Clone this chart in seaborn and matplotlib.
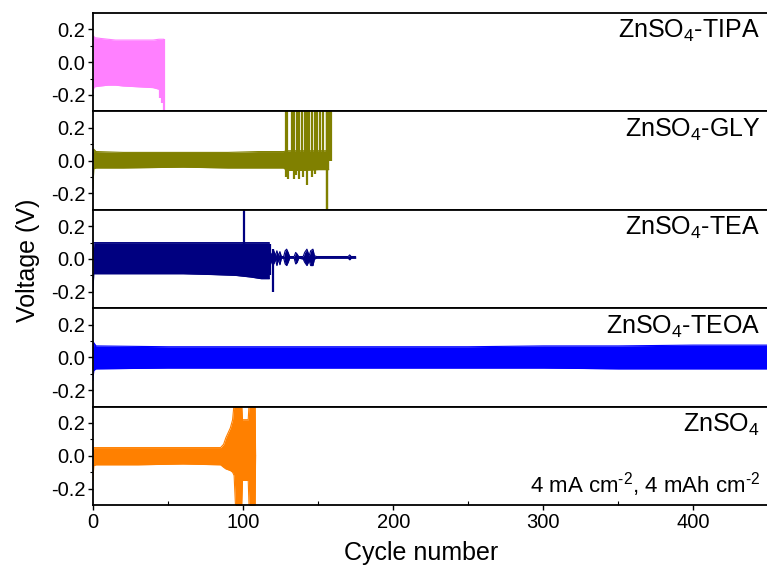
import numpy as np
import pandas as pd
import matplotlib
matplotlib.use("Agg")
import matplotlib.pyplot as plt
import seaborn as sns
from matplotlib.ticker import FixedLocator, MultipleLocator

# ---------------- data ----------------
labels = ["ZnSO$_4$-TIPA", "ZnSO$_4$-GLY", "ZnSO$_4$-TEA", "ZnSO$_4$-TEOA", "ZnSO$_4$"]
colors = ["#FF80FF", "#808000", "#000080", "#0000FF", "#FF8000"]
note = "4 mA cm$^{\\text{-2}}$, 4 mAh cm$^{\\text{-2}}$"
xlabel = "Cycle number"
ylabel = "Voltage (V)"
xticks = [0, 100, 200, 300, 400]
yticks = [-0.2, 0.0, 0.2]
yticklabels = ["-0.2", "0.0", "0.2"]

# ZnSO4-TIPA voltage envelope (upper / lower peaks per cycle)
tipa_cyc = [0, 0.4, 1, 5, 10, 15, 20, 30, 40, 44, 46, 47.2]
tipa_up = [0.1, 0.16, 0.15, 0.145, 0.14, 0.135, 0.135, 0.135, 0.135, 0.14, 0.14, 0.14]
tipa_lo = [-0.19, -0.16, -0.15, -0.145, -0.14, -0.14, -0.145, -0.15, -0.155, -0.165, -0.17, -0.17]
tipa_spk_cyc = [44.8, 46.0, 47.3]
tipa_spk_lo = [-0.22, -0.25, -0.32]
tipa_spk_hi = [0.0, 0.0, 0.14]

# ZnSO4-GLY
gly_cyc = [0, 0.5, 2, 20, 60, 90, 110, 127, 129, 140, 150, 155, 157]
gly_up = [0.0, 0.07, 0.055, 0.05, 0.05, 0.05, 0.055, 0.055, 0.06, 0.06, 0.06, 0.06, 0.06]
gly_lo = [-0.17, -0.05, -0.045, -0.045, -0.04, -0.045, -0.045, -0.045, -0.06, -0.06, -0.055, -0.055, -0.055]
gly_spk_cyc = [128.3, 129.3, 132.4, 134.2, 135.8, 137.3, 139.1, 140.9, 142.4, 144.2,
               145.8, 147.6, 149.1, 151.3, 153.1, 155.8, 156.8, 157.8, 158.8,
               128.7, 130.2, 133.6, 135.2, 137.3, 140.0, 142.4, 145.8, 148.0, 155.6, 156.2]
gly_spk_lo = [0.0] * 19 + [-0.10, -0.11, -0.11, -0.09, -0.11, -0.10, -0.15, -0.10, -0.08, -0.32, -0.32]
gly_spk_hi = [0.32] * 19 + [0.0] * 9 + [0.32, 0.32]

# ZnSO4-TEA
tea_cyc = [0, 0.5, 2, 30, 60, 80, 95, 105, 112, 117.5]
tea_up = [0.0, 0.1, 0.1, 0.1, 0.1, 0.1, 0.1, 0.1, 0.1, 0.1]
tea_lo = [-0.2, -0.09, -0.09, -0.09, -0.09, -0.095, -0.1, -0.11, -0.12, -0.12]
tea_tail_cyc = [117.5, 119.5, 120.5, 121.5, 122.5, 123.5, 124.5, 125.5, 127, 128, 129, 130, 131,
                134, 135, 136, 137, 140, 141, 142.5, 144, 145, 146.5, 147.5, 149, 160, 170, 171, 172, 175]
tea_tail_up = [0.05, 0.02, 0.05, 0.02, 0.05, 0.02, 0.045, 0.015, 0.015, 0.05, 0.06, 0.04, 0.015,
               0.015, 0.04, 0.03, 0.015, 0.015, 0.04, 0.06, 0.02, 0.05, 0.06, 0.02, 0.015, 0.015, 0.015, 0.025, 0.015, 0.015]
tea_tail_lo = [-0.05, 0.0, -0.03, 0.0, -0.04, 0.0, -0.035, 0.005, 0.005, -0.03, -0.04, -0.02, 0.005,
               0.005, -0.03, -0.02, 0.005, 0.0, -0.02, -0.04, -0.01, -0.04, -0.04, 0.0, 0.005, 0.005, 0.005, -0.005, 0.005, 0.005]
tea_spk_cyc = [100.6, 118.2, 119.8]
tea_spk_lo = [0.05, -0.1, -0.2]
tea_spk_hi = [0.32, 0.09, 0.06]

# ZnSO4-TEOA
teoa_cyc = [0, 0.5, 2, 50, 100, 150, 200, 250, 300, 350, 400, 450]
teoa_up = [0.0, 0.09, 0.07, 0.065, 0.065, 0.065, 0.065, 0.065, 0.07, 0.07, 0.075, 0.075]
teoa_lo = [-0.14, -0.08, -0.07, -0.065, -0.065, -0.065, -0.065, -0.065, -0.065, -0.07, -0.07, -0.07]

# ZnSO4
zn_cyc = [0, 0.5, 2, 30, 60, 85, 87, 88.5, 90, 91.5, 93, 94, 95, 99, 99.6, 103.4, 104, 108, 108.3]
zn_up = [0.0, 0.05, 0.05, 0.05, 0.05, 0.05, 0.07, 0.11, 0.14, 0.17, 0.22, 0.32, 0.32, 0.32, 0.22, 0.22, 0.32, 0.32, 0.0]
zn_lo = [-0.15, -0.06, -0.055, -0.055, -0.05, -0.055, -0.07, -0.08, -0.085, -0.09, -0.1, -0.12, -0.32, -0.32, -0.15, -0.15, -0.32, -0.32, 0.0]

bands = [
    [(tipa_cyc, tipa_up, tipa_lo)],
    [(gly_cyc, gly_up, gly_lo)],
    [(tea_cyc, tea_up, tea_lo), (tea_tail_cyc, tea_tail_up, tea_tail_lo)],
    [(teoa_cyc, teoa_up, teoa_lo)],
    [(zn_cyc, zn_up, zn_lo)],
]
spikes = [
    (tipa_spk_cyc, tipa_spk_lo, tipa_spk_hi),
    (gly_spk_cyc, gly_spk_lo, gly_spk_hi),
    (tea_spk_cyc, tea_spk_lo, tea_spk_hi),
    None,
    None,
]

# ---------------- style ----------------
sns.set_theme(style="ticks")
plt.rcParams["font.family"] = ["Liberation Sans", "DejaVu Sans"]
plt.rcParams["mathtext.fontset"] = "custom"
plt.rcParams["mathtext.rm"] = "Liberation Sans"
plt.rcParams["mathtext.it"] = "Liberation Sans:italic"
plt.rcParams["mathtext.default"] = "regular"
plt.rcParams["text.color"] = "black"
plt.rcParams["axes.labelcolor"] = "black"
plt.rcParams["xtick.color"] = "black"
plt.rcParams["ytick.color"] = "black"

fig, axes = plt.subplots(5, 1, sharex=True, figsize=(7.67, 5.72), dpi=100,
                         gridspec_kw=dict(hspace=0))
fig.subplots_adjust(left=93 / 767, right=1.0, top=1 - 13 / 572, bottom=1 - 505 / 572)

for i, ax in enumerate(axes):
    c = colors[i]
    for cyc, up, lo in bands[i]:
        df = pd.DataFrame({"cycle": cyc, "up": up, "lo": lo})
        ax.fill_between(df["cycle"], df["lo"], df["up"], color=c, lw=0)
        sns.lineplot(data=df, x="cycle", y="up", color=c, lw=0.8, ax=ax, estimator=None, sort=False)
        sns.lineplot(data=df, x="cycle", y="lo", color=c, lw=0.8, ax=ax, estimator=None, sort=False)
    if spikes[i] is not None:
        sx, slo, shi = spikes[i]
        ax.vlines(sx, slo, shi, color=c, lw=1.6)
    ax.set_xlim(0, 449)
    ax.set_ylim(-0.3, 0.3)
    ax.set_xlabel("")
    ax.set_ylabel("")
    ax.yaxis.set_major_locator(FixedLocator(yticks))
    ax.set_yticklabels(yticklabels)
    ax.yaxis.set_minor_locator(FixedLocator([-0.1, 0.1]))
    ax.tick_params(axis="y", which="major", direction="out", length=3.5, width=1, labelsize=14.5, pad=2, colors="black")
    ax.tick_params(axis="y", which="minor", direction="out", length=2, width=0.8, colors="black")
    for s in ["top", "bottom", "left"]:
        ax.spines[s].set_linewidth(1.3)
        ax.spines[s].set_color("black")
    ax.spines["right"].set_visible(False)
    ax.text(0.99, 1 - 25 / 98, labels[i], transform=ax.transAxes, ha="right", va="baseline",
            fontsize=18, color="black")
    if i < 4:
        ax.tick_params(axis="x", which="both", bottom=False, labelbottom=False)

axb = axes[-1]
axb.xaxis.set_major_locator(FixedLocator(xticks))
axb.xaxis.set_minor_locator(MultipleLocator(50))
axb.tick_params(axis="x", which="major", direction="out", length=3.5, width=1, labelsize=14.5, pad=2, colors="black")
axb.tick_params(axis="x", which="minor", direction="in", length=3, width=0.8, colors="black")
axb.text(0.99, 12 / 98, note, transform=axb.transAxes, ha="right", va="baseline", fontsize=16, color="black")

fig.text(28 / 767, 1 - 260 / 572, ylabel, rotation=90, ha="center", va="center", fontsize=18, color="black")
fig.text(421 / 767, 1 - 553 / 572, xlabel, ha="center", va="center", fontsize=18, color="black")

fig.savefig("out.png", dpi=100)
